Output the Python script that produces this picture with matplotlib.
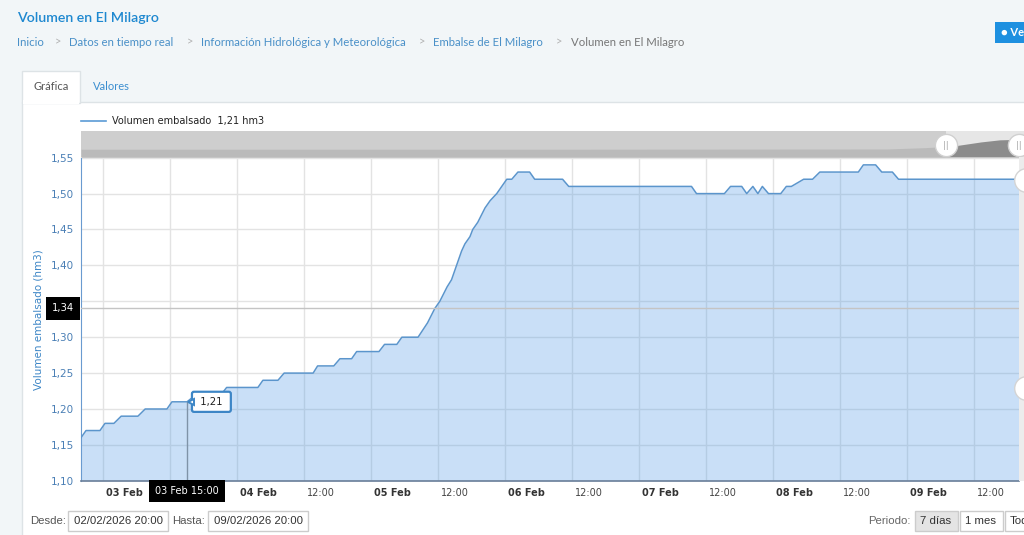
import matplotlib
matplotlib.use("Agg")
import matplotlib.pyplot as plt
from matplotlib.patches import Rectangle
from matplotlib.transforms import offset_copy
import pandas as pd

# datos (horas desde 02/02/2026 20:00, hm3)
start = pd.Timestamp("2026-02-02 20:00")
hours = [0.0, 0.9, 3.4, 4.3, 5.9, 7.2, 10.2, 11.5, 15.4, 16.3, 19.0, 20.6, 25.1, 26.1,
         31.7, 32.6, 35.3, 36.4, 41.6, 42.4, 45.3, 46.4, 48.5, 49.4, 53.4, 54.4, 56.6,
         57.5, 60.4, 62.1, 63.4, 64.3, 65.6, 66.4, 67.3, 68.2, 68.8, 69.7, 70.2, 71.1,
         72.4, 73.3, 74.5, 75.4, 76.3, 77.2, 78.3, 80.4, 81.3, 86.3, 87.4, 109.4, 110.3,
         115.3, 116.4, 118.4, 119.3, 120.4, 121.3, 122.1, 123.2, 125.4, 126.4, 127.3,
         129.5, 131.1, 132.4, 139.3, 140.2, 142.4, 143.5, 145.4, 146.5, 168.0]
volumen = [1.16, 1.17, 1.17, 1.18, 1.18, 1.19, 1.19, 1.20, 1.20, 1.21, 1.21, 1.22, 1.22, 1.23,
           1.23, 1.24, 1.24, 1.25, 1.25, 1.26, 1.26, 1.27, 1.27, 1.28, 1.28, 1.29, 1.29,
           1.30, 1.30, 1.32, 1.34, 1.35, 1.37, 1.38, 1.40, 1.42, 1.43, 1.44, 1.45, 1.46,
           1.48, 1.49, 1.50, 1.51, 1.52, 1.52, 1.53, 1.53, 1.52, 1.52, 1.51, 1.51, 1.50,
           1.50, 1.51, 1.51, 1.50, 1.51, 1.50, 1.51, 1.50, 1.50, 1.51, 1.51,
           1.52, 1.52, 1.53, 1.53, 1.54, 1.54, 1.53, 1.53, 1.52, 1.52]
y_ticks = [1.10, 1.15, 1.20, 1.25, 1.30, 1.35, 1.40, 1.45, 1.50, 1.55]
hover_time = pd.Timestamp("2026-02-03 15:00")
hover_value = 1.21
cursor_value = 1.34

# silueta del navegador (fracción de ancho, fracción de alto)
nav_pos = [0.0, 0.5, 0.86, 0.90, 0.93, 0.96, 0.98, 1.0]
nav_level = [0.30, 0.30, 0.31, 0.36, 0.42, 0.58, 0.66, 0.68]
nav_sel = 0.923

times = start + pd.to_timedelta(hours, unit="h")

W, H = 1024, 535
def fx(x): return x / W
def fy(y): return 1 - y / H

def box(x0, y_top, w, h, fc, ec="none", lw=1, z=-5):
    fig.patches.append(Rectangle((fx(x0), fy(y_top + h)), w / W, h / H,
                                 transform=fig.transFigure, facecolor=fc, edgecolor=ec,
                                 lw=lw, zorder=z))

fig = plt.figure(figsize=(W / 100, H / 100), dpi=100)
fig.patch.set_facecolor("#f2f6f8")

hdr = ["Lato", "DejaVu Sans"]
arial = ["Liberation Sans", "DejaVu Sans"]
narrow = ["Liberation Sans Narrow", "Liberation Sans", "DejaVu Sans"]

# cabecera
fig.text(fx(17), fy(18), "Volumen en El Milagro", color="#1e88d0", fontsize=10.2,
         family=hdr, weight="semibold", va="center")
crumbs = [("Inicio", 17, "#4a90c8"), ("Datos en tiempo real", 69, "#4a90c8"),
          ("Información Hidrológica y Meteorológica", 201, "#4a90c8"),
          ("Embalse de El Milagro", 433, "#4a90c8"), ("Volumen en El Milagro", 571, "#777777")]
for txt, x, c in crumbs:
    fig.text(fx(x), fy(42), txt, color=c, fontsize=8.2, family=hdr, va="center")
for x in [55, 187, 419, 556]:
    fig.text(fx(x), fy(42), ">", color="#b0b0b0", fontsize=8, family=hdr, va="center")
box(995, 22, 40, 21, "#1e90e0", z=-4)
fig.text(fx(1001), fy(32), "● Ve", color="white", fontsize=8, family=hdr, va="center",
         weight="bold")

# panel blanco y pestañas
box(22, 102, 1010, 440, "white", ec="#dde3e6", z=-8)
box(22, 71, 58, 32, "white", ec="#dde3e6", z=-7)
box(23, 100, 56, 4, "white", z=-6)
fig.text(fx(33), fy(87), "Gráfica", color="#555555", fontsize=8, family=hdr, va="center")
fig.text(fx(93), fy(87), "Valores", color="#3b8ed0", fontsize=8, family=hdr, va="center")

# leyenda
fig.lines.append(plt.Line2D([fx(81), fx(106)], [fy(121), fy(121)], color="#5b9bd5",
                            lw=1.2, transform=fig.transFigure))
fig.text(fx(112), fy(121), "Volumen embalsado  1,21 hm3", color="#222222", fontsize=7,
         va="center")

# gráfico principal
top, bot, left, right = 157.7, 480.8, 81, 1018.5
ax = fig.add_axes([fx(left), fy(bot), (right - left) / W, (bot - top) / H])
ax.set_facecolor("white")
ax.set_xlim(start, start + pd.Timedelta(hours=168))
ax.set_ylim(1.10, 1.55)

ticks = pd.date_range("2026-02-03 00:00", "2026-02-09 12:00", freq="12h")
ax.set_xticks(ticks)
ax.set_yticks(y_ticks)
# 1,35 queda tapado por la etiqueta del cursor
ax.set_yticklabels(["" if abs(v - 1.35) < 1e-9 else f"{v:.2f}".replace(".", ",")
                    for v in y_ticks])
ax.tick_params(axis="x", length=0, labelbottom=False)
ax.tick_params(axis="y", length=0, pad=5, labelsize=7.5, labelcolor="#4a7fb5")
ax.grid(True, color="#e3e3e3", lw=1, zorder=0)
for s in ["top", "right"]:
    ax.spines[s].set_visible(False)
ax.spines["left"].set_color("#6a9bd0")
ax.spines["bottom"].set_color("#6b7f99")
ax.spines["bottom"].set_linewidth(1.2)
ax.set_axisbelow(True)

xlab_tr = offset_copy(ax.get_xaxis_transform(), fig=fig, x=3, y=-12, units="dots")
for t in ticks:
    if abs((t - hover_time).total_seconds()) < 6 * 3600:
        continue  # tapado por la etiqueta del cursor
    if t.hour == 0:
        ax.text(t, 0, t.strftime("%d %b"), transform=xlab_tr, ha="left", va="center",
                fontsize=7, weight="bold", color="#333333")
    else:
        ax.text(t, 0, "12:00", transform=xlab_tr, ha="left", va="center",
                fontsize=7, color="#444444")

ax.fill_between(times, volumen, 1.10, color="#4c97e6", alpha=0.3, lw=0, zorder=2)
ax.plot(times, volumen, color="#5b95cc", lw=1.1, zorder=3)

ax.set_ylabel("Volumen embalsado (hm3)", color="#3d86c6", fontsize=7.5, labelpad=5)

# cursores
ax.axhline(cursor_value, color="#c4c4c4", lw=1, zorder=4)
ax.plot([hover_time, hover_time], [1.10, hover_value], color="#7f93a8", lw=1, zorder=4)
ylab_tr = offset_copy(ax.get_yaxis_transform(), fig=fig, x=-7, y=0, units="dots")
ax.text(0, cursor_value, "1,34", transform=ylab_tr, ha="right", va="center", fontsize=7.3,
        color="white", zorder=10, clip_on=False,
        bbox=dict(boxstyle="square,pad=0.6", fc="black", ec="none"))
xcur_tr = offset_copy(ax.get_xaxis_transform(), fig=fig, x=0, y=-10.5, units="dots")
ax.text(hover_time, 0, "03 Feb 15:00", transform=xcur_tr, ha="center", va="center",
        fontsize=7, color="white", zorder=10, clip_on=False,
        bbox=dict(boxstyle="square,pad=0.6", fc="black", ec="none"))

# tooltip
tip_tr = offset_copy(ax.transData, fig=fig, x=10, y=0, units="dots")
ax.text(hover_time, hover_value, " 1,21 ", transform=tip_tr, ha="left", va="center",
        fontsize=7.3, color="#222222", zorder=11,
        bbox=dict(boxstyle="round,pad=0.5,rounding_size=0.2", fc="white", ec="#3d86c6",
                  lw=1.6))
arr_tr = offset_copy(ax.transData, fig=fig, x=4, y=0, units="dots")
ax.plot([hover_time], [hover_value], marker="<", ms=5, mfc="white", mec="#3d86c6",
        mew=1.4, transform=arr_tr, zorder=12)

# navegador
nav = fig.add_axes([fx(left), fy(157), (1024 - left) / W, 26 / H])
nav.set_xlim(0, (1024 - left) / (right - left))
nav.set_ylim(0, 1)
nav.set_facecolor("#e6e6e6")
nav.fill_between(nav_pos, nav_level, 0, color="#8c8c8c", lw=0)
nav.axvspan(0, nav_sel, color="#c8c8c8", alpha=0.78, lw=0)
nav.set_xticks([])
nav.set_yticks([])
for s in nav.spines.values():
    s.set_visible(False)
for hx in [nav_sel, 1.0]:
    nav.plot([hx], [0.45], marker="o", ms=16, mfc="white", mec="#d0d0d0", clip_on=False,
             zorder=5)
    nav.text(hx, 0.45, "||", ha="center", va="center", fontsize=6, color="#aaaaaa",
             zorder=6, clip_on=False)

# barra derecha
box(1019, 157, 6, 324, "#ececec", z=2)
for cy in [180, 388]:
    fig.lines.append(plt.Line2D([fx(1026)], [fy(cy)], marker="o", ms=17, mfc="white",
                                mec="#d4d4d4", transform=fig.transFigure, zorder=3))

# controles inferiores
fig.text(fx(30), fy(521), "Desde:", color="#555555", fontsize=8.2, family=arial,
         va="center")
fig.text(fx(172), fy(521), "Hasta:", color="#555555", fontsize=8.2, family=arial,
         va="center")
for x0, txt in [(68, "02/02/2026 20:00"), (208, "09/02/2026 20:00")]:
    box(x0, 511, 100, 20, "white", ec="#cccccc", z=2)
    fig.text(fx(x0 + 50), fy(521), txt, color="#333333", fontsize=8.2, family=arial,
             va="center", ha="center")
fig.text(fx(911), fy(521), "Periodo:", color="#666666", fontsize=8.2, family=narrow,
         va="center", ha="right")
for x0, w, txt, fc in [(915, 43, "7 días", "#e4e4e4"), (960, 43, "1 mes", "white"),
                       (1005, 30, "Tod", "white")]:
    box(x0, 511, w, 20, fc, ec="#cccccc", z=2)
    fig.text(fx(x0 + 5), fy(521), txt, color="#333333", fontsize=8.2, family=narrow,
             va="center", ha="left")

fig.savefig("out.png", dpi=100, facecolor=fig.get_facecolor())
